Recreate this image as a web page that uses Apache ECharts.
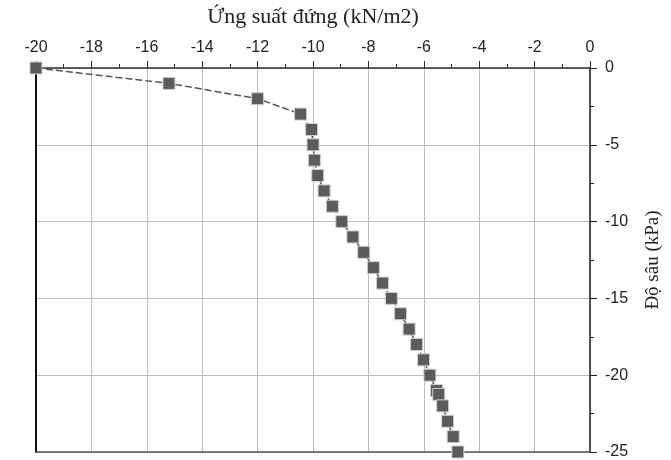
<!DOCTYPE html>
<html>
<head>
<meta charset="utf-8">
<script src="https://cdn.jsdelivr.net/npm/echarts@6/dist/echarts.min.js"></script>
<style>
  html, body { margin: 0; padding: 0; background: #fff; }
  #chart { width: 671px; height: 460px; }
</style>
</head>
<body>
<div id="chart"></div>
<script>
// ứng suất đứng (kN/m2) và độ sâu
var stress = [-20, -15.2, -12.0, -10.45, -10.05, -10.0, -9.95, -9.83, -9.6, -9.3, -8.96, -8.56, -8.17, -7.82,
              -7.49, -7.17, -6.84, -6.53, -6.26, -6.01, -5.78, -5.54, -5.46, -5.32, -5.14, -4.94, -4.77];
var depth = [0, -1, -2, -3, -4, -5, -6, -7, -8, -9, -10, -11, -12, -13,
             -14, -15, -16, -17, -18, -19, -20, -21, -21.25, -22, -23, -24, -25];
var xTicks = [-20, -18, -16, -14, -12, -10, -8, -6, -4, -2, 0];
var yTicks = [0, -5, -10, -15, -20, -25];

var points = [];
for (var i = 0; i < stress.length; i++) {
    points.push([stress[i], depth[i]]);
}

var chart = echarts.init(document.getElementById('chart'));
var labelFont = { fontFamily: 'Liberation Sans', fontSize: 16, color: '#222' };

chart.setOption({
    animation: false,
    grid: { left: 36, right: 80, top: 68, bottom: 6 },
    xAxis: [
        {
            type: 'value',
            position: 'top',
            min: xTicks[0],
            max: xTicks[xTicks.length - 1],
            interval: 2,
            name: 'Ứng suất đứng (kN/m2)',
            nameLocation: 'middle',
            nameGap: 40,
            nameTextStyle: { fontFamily: 'Liberation Serif', fontSize: 22, color: '#222' },
            axisLine: { show: true, onZero: false, lineStyle: { color: '#333', width: 1.5 } },
            axisTick: { show: true, length: 7, lineStyle: { color: '#333' } },
            minorTick: { show: true, splitNumber: 2, length: 4, lineStyle: { color: '#333' } },
            axisLabel: Object.assign({ margin: 12 }, labelFont),
            splitLine: { show: true, lineStyle: { color: '#bdbdbd', width: 1 } }
        },
        {
            type: 'value',
            position: 'bottom',
            min: -20, max: 0,
            axisLine: { show: true, onZero: false, lineStyle: { color: '#555', width: 1.5 } },
            axisTick: { show: false },
            axisLabel: { show: false },
            splitLine: { show: false }
        }
    ],
    yAxis: [
        {
            type: 'value',
            position: 'right',
            min: yTicks[yTicks.length - 1],
            max: yTicks[0],
            interval: 5,
            name: 'Độ sâu (kPa)',
            nameLocation: 'middle',
            nameRotate: 90,
            nameGap: 54,
            nameTextStyle: { fontFamily: 'Liberation Serif', fontSize: 19, color: '#222' },
            axisLine: { show: true, onZero: false, lineStyle: { color: '#222', width: 1.5 } },
            axisTick: { show: true, length: 7, lineStyle: { color: '#222' } },
            minorTick: { show: true, splitNumber: 2, length: 4, lineStyle: { color: '#222' } },
            axisLabel: Object.assign({ margin: 15 }, labelFont),
            splitLine: { show: true, lineStyle: { color: '#bdbdbd', width: 1 } }
        },
        {
            type: 'value',
            position: 'left',
            min: -25, max: 0,
            axisLine: { show: true, onZero: false, lineStyle: { color: '#111', width: 2 } },
            axisTick: { show: false },
            axisLabel: { show: false },
            splitLine: { show: false }
        }
    ],
    series: [{
        type: 'line',
        data: points,
        symbol: 'rect',
        symbolSize: 12,
        itemStyle: { color: '#5b5b5b', borderColor: '#cfcfcf', borderWidth: 1 },
        lineStyle: { color: '#555', width: 1.5, type: [7, 3] },
        clip: false,
        z: 5
    }]
});
</script>
</body>
</html>
